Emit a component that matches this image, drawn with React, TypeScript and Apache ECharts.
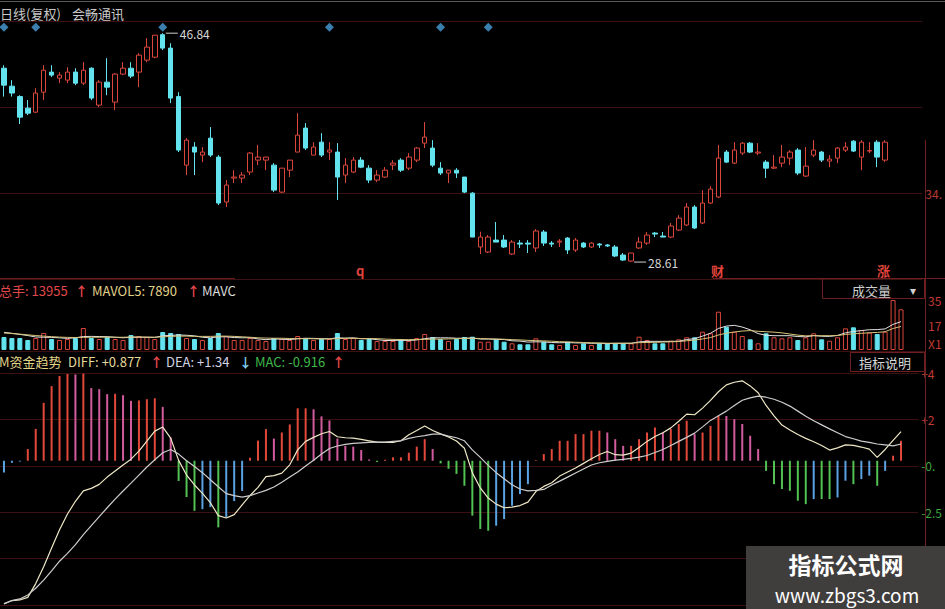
import React, { useEffect, useRef } from "react";
import * as echarts from "echarts";

// Daily bars of 会畅通讯: [open, close, low, high]
const candles: number[][] = [
  [44.05, 42.7, 41.79, 44.29], [42.62, 42.07, 41.79, 43.1], [41.79, 40.15, 39.6, 41.9], [40.87, 40.47, 40.31, 41.51], [40.55, 42.07, 40.47, 42.46],
  [42.14, 43.89, 41.51, 44.29], [43.74, 43.5, 43.34, 44.29], [43.26, 43.5, 42.86, 43.74], [43.1, 43.74, 42.86, 44.13], [43.74, 42.86, 42.7, 44.05],
  [42.86, 43.89, 42.7, 44.53], [44.05, 41.67, 41.51, 44.13], [41.11, 42.94, 40.95, 43.1], [42.94, 42.54, 41.9, 44.85], [41.35, 43.58, 40.71, 43.66],
  [43.58, 44.05, 43.5, 44.53], [44.05, 43.42, 43.26, 44.53], [43.74, 45.09, 42.54, 45.25], [44.69, 45.73, 44.53, 46.44], [44.93, 46.68, 44.85, 46.7],
  [46.72, 45.65, 45.49, 46.84], [45.65, 41.67, 41.27, 46.04], [41.79, 37.53, 37.37, 42.14], [36.33, 38.32, 35.54, 38.48], [37.77, 37.37, 35.54, 38.16],
  [37.13, 37.37, 36.57, 37.77], [38.48, 37.13, 36.97, 39.36], [36.97, 33.31, 33.15, 37.13], [33.39, 34.74, 32.99, 35.14], [35.3, 35.38, 34.9, 35.93],
  [35.3, 35.54, 34.9, 35.78], [35.78, 37.29, 35.54, 37.37], [36.73, 36.97, 36.33, 37.93], [36.73, 36.97, 35.93, 36.97], [36.33, 34.34, 34.18, 36.49],
  [34.18, 36.09, 34.1, 36.09], [35.93, 36.73, 35.38, 36.73], [37.37, 38.72, 37.37, 40.47], [39.28, 37.69, 37.53, 39.68], [37.13, 37.77, 37.13, 38.16],
  [38.16, 37.13, 36.97, 38.88], [37.37, 37.53, 36.73, 38.16], [37.37, 35.38, 33.55, 38.08], [35.54, 36.33, 34.9, 36.89], [35.78, 36.73, 35.7, 36.97],
  [36.73, 36.17, 36.09, 36.97], [36.09, 35.14, 34.9, 36.33], [35.14, 35.54, 34.98, 35.93], [35.38, 35.93, 35.3, 36.17], [36.33, 36.49, 35.93, 36.73],
  [36.73, 35.93, 35.78, 36.89], [36.09, 36.97, 35.93, 37.29], [36.73, 37.69, 36.57, 37.77], [38.08, 38.56, 37.69, 39.76], [37.69, 36.33, 36.17, 38.32],
  [36.09, 35.7, 35.54, 36.57], [35.7, 35.93, 34.9, 35.93], [35.93, 35.7, 35.3, 36.09], [35.38, 34.18, 34.1, 35.38], [34.1, 30.6, 30.6, 34.18],
  [29.81, 30.6, 29.25, 31.03], [29.41, 30.6, 29.33, 30.76], [30.36, 30.2, 30.2, 31.8], [30.36, 29.81, 29.73, 30.76], [29.25, 30.2, 29.17, 30.36],
  [30.12, 30.04, 29.73, 30.36], [30.12, 30.04, 29.33, 30.36], [29.73, 31.08, 29.41, 31.24], [31.0, 30.12, 29.89, 31.16], [30.12, 30.04, 29.81, 30.28],
  [30.2, 30.28, 29.81, 30.44], [30.52, 29.57, 29.25, 30.6], [29.57, 30.36, 29.41, 30.52], [30.12, 29.81, 29.73, 30.2], [29.81, 30.12, 29.73, 30.2],
  [30.04, 29.97, 29.73, 30.12], [29.97, 29.89, 29.81, 30.04], [29.81, 29.09, 29.01, 29.97], [29.17, 28.77, 28.69, 29.33], [28.69, 29.33, 28.61, 29.33],
  [29.73, 30.2, 29.65, 30.6], [30.12, 30.76, 29.97, 31.0], [30.92, 30.84, 30.6, 31.0], [30.68, 30.6, 30.6, 31.0], [30.6, 31.48, 30.52, 31.72],
  [31.16, 32.11, 31.08, 32.35], [31.56, 32.99, 31.48, 33.31], [32.99, 31.32, 31.24, 33.15], [31.72, 33.31, 31.64, 34.34], [33.31, 34.42, 33.23, 34.66],
  [33.79, 36.89, 33.71, 37.93], [37.37, 36.57, 36.49, 37.53], [36.49, 37.53, 36.41, 38.16], [37.29, 38.08, 37.13, 38.16], [38.08, 37.37, 37.29, 38.16],
  [37.29, 37.37, 37.13, 38.08], [36.57, 36.09, 35.3, 36.73], [36.09, 36.17, 36.01, 37.13], [36.49, 36.97, 36.17, 37.93], [36.89, 37.37, 36.33, 37.53],
  [37.53, 35.7, 35.54, 37.69], [35.46, 36.25, 35.38, 37.77], [37.13, 37.53, 36.97, 38.32], [37.37, 36.73, 36.57, 37.45], [36.65, 36.81, 36.17, 37.13],
  [36.89, 37.69, 36.49, 37.77], [37.53, 37.77, 37.37, 38.16], [38.24, 37.45, 37.37, 38.32], [36.97, 38.16, 35.93, 38.32], [37.45, 37.49, 37.29, 38.16],
  [38.16, 36.97, 36.17, 38.32], [36.73, 38.16, 36.57, 38.32],
];

// Volume (lots); the volume and indicator panes run two sessions past the last bar
const volume: number[] = [
  9170, 8470, 8470, 7060, 8470, 12000, 7760, 7060, 7760, 8470,
  15530, 8470, 7760, 9170, 7760, 7060, 10590, 9880, 9170, 7760,
  12700, 12000, 11290, 8470, 7760, 7060, 8470, 12000, 9880, 7060,
  7060, 8470, 7060, 6350, 8470, 7760, 7060, 9880, 8470, 7060,
  7760, 7760, 12000, 7760, 8470, 7060, 7760, 6350, 6350, 6350,
  7760, 6350, 8470, 11290, 9170, 7760, 6350, 7760, 9170, 9390,
  5860, 5860, 7550, 5860, 4730, 4020, 4020, 8260, 5860, 4020,
  3530, 5860, 3530, 4730, 3530, 4730, 4730, 4730, 4730, 4730,
  9390, 7060, 4730, 4730, 6560, 7550, 8960, 8960, 12910, 11790,
  27030, 16440, 12910, 9880, 7550, 4730, 11790, 8960, 8260, 8960,
  7060, 8960, 11790, 7550, 6560, 8960, 15310, 16020, 14110, 12210,
  11290, 12910, 35280, 28720,
];
const extraDaysUp = [true, true];

const mavol5: number[] = [
  12500, 11800, 11000, 10200, 9200, 9000, 8900, 8600, 8200, 8600,
  9500, 9600, 9500, 9400, 9000, 8600, 9000, 9000, 9000, 8900,
  10000, 10300, 10600, 10400, 10000, 9000, 8600, 9300, 9300, 8800,
  8600, 8700, 7800, 7300, 7800, 7600, 7400, 7900, 8300, 8200,
  8000, 7900, 8600, 8400, 8600, 7900, 7900, 7300, 6700, 6700,
  6900, 6700, 7100, 8000, 8600, 8600, 8600, 8300, 8300, 8500,
  7700, 7700, 7500, 7400, 6500, 6300, 5600, 5800, 5700, 5300,
  5100, 5300, 5000, 5000, 4700, 4800, 4500, 4700, 4700, 4700,
  5700, 6100, 6100, 6100, 6100, 6200, 7400, 8000, 9800, 11800,
  15200, 16900, 17400, 16200, 14300, 11600, 10400, 10100, 10100, 10100,
  9500, 9300, 10200, 9700, 9600, 10300, 12100, 13100, 13700, 14300,
  14400, 14900, 18100, 20000,
];
const mavol10: number[] = [
  12000, 11600, 11200, 10700, 10200, 9800, 9400, 9100, 8900, 8800,
  8900, 9000, 9000, 9100, 9000, 9000, 9200, 9200, 9100, 9000,
  9300, 9600, 9800, 9800, 9600, 9600, 9600, 9800, 9800, 9600,
  9300, 9000, 8600, 8400, 8300, 8300, 8100, 8000, 8000, 7900,
  7800, 7800, 8000, 8200, 8300, 8100, 8100, 8000, 7700, 7500,
  7400, 7300, 7400, 7500, 7700, 7700, 7800, 8000, 8100, 8300,
  8100, 7900, 7800, 7600, 7300, 7100, 6800, 6600, 6400, 6200,
  5900, 5700, 5500, 5300, 5100, 4900, 4800, 4800, 4800, 4800,
  5200, 5300, 5400, 5600, 5800, 6000, 6500, 7000, 7800, 8800,
  10600, 11900, 12700, 13400, 13700, 13200, 12900, 12600, 12100, 11300,
  10500, 10000, 10100, 10100, 10100, 10200, 11000, 11400, 11800, 12200,
  12400, 12900, 15200, 16600,
];

// 资金趋势 indicator
const macdHist: number[] = [
  -0.58, -0.1, -0.04, 0.58, 1.58, 2.87, 3.7, 4.2, 4.3, 4.28,
  4.32, 3.6, 3.55, 3.3, 3.32, 3.25, 2.97, 2.99, 3.05, 3.1,
  2.67, 1.15, -1.0, -1.8, -2.48, -2.4, -2.3, -3.3, -2.8, -2.0,
  -1.5, 0.15, 1.0, 1.57, 1.1, 1.4, 1.8, 2.6, 2.6, 2.55,
  2.2, 2.0, 1.1, 0.74, 0.7, 0.53, 0.06, -0.06, 0.05, 0.17,
  0.17, 0.4, 0.7, 1.07, 0.58, -0.13, -0.4, -0.65, -1.24, -2.72,
  -3.38, -3.47, -3.22, -2.89, -2.23, -1.65, -1.16, 0.03, 0.33, 0.58,
  0.99, 0.99, 1.32, 1.32, 1.49, 1.49, 1.4, 1.07, 0.74, 0.74,
  1.07, 1.4, 1.65, 1.4, 1.57, 1.82, 1.98, 1.32, 1.4, 1.73,
  2.23, 2.22, 2.06, 1.82, 1.24, 0.58, -0.5, -1.16, -1.4, -1.49,
  -1.98, -2.15, -1.9, -1.9, -1.9, -1.82, -0.99, -1.16, -0.91, -0.74,
  -1.24, -0.5, 0.25, 0.99,
];
const diffLine: number[] = [
  -7.1, -6.93, -6.9, -6.77, -6.09, -5.25, -4.32, -3.42, -2.64, -2.01,
  -1.49, -1.37, -1.17, -0.81, -0.51, -0.21, 0.08, 0.48, 0.97, 1.47,
  1.67, 1.12, 0.02, -0.71, -1.2, -1.62, -2.08, -2.72, -2.84, -2.67,
  -2.19, -1.72, -1.32, -0.79, -0.74, -0.61, -0.2, 0.54, 0.96, 1.16,
  1.34, 1.45, 1.19, 1.14, 1.12, 1.06, 0.99, 0.92, 0.91, 0.91,
  0.99, 1.29, 1.5, 1.72, 1.5, 1.33, 1.18, 0.98, 0.62, -0.6,
  -1.35, -1.85, -2.15, -2.33, -2.3, -2.22, -2.05, -1.53, -1.27, -1.09,
  -0.76, -0.56, -0.36, -0.13, 0.1, 0.31, 0.46, 0.3, 0.28, 0.38,
  0.66, 0.96, 1.2, 1.39, 1.63, 1.96, 2.31, 2.28, 2.61, 2.99,
  3.42, 3.76, 3.89, 3.96, 3.71, 3.37, 2.74, 2.23, 1.77, 1.52,
  1.3, 1.11, 0.94, 0.76, 0.53, 0.64, 0.79, 0.76, 0.68, 0.58,
  0.17, 0.56, 1.01, 1.44,
];
const deaLine: number[] = [
  -7.08, -6.93, -6.85, -6.65, -6.32, -5.92, -5.46, -4.98, -4.59, -4.16,
  -3.66, -3.22, -2.77, -2.33, -1.9, -1.5, -1.11, -0.71, -0.31, 0.05,
  0.4, 0.56, 0.33, 0.0, -0.28, -0.59, -0.94, -1.29, -1.63, -1.73,
  -1.8, -1.73, -1.6, -1.47, -1.3, -1.06, -0.81, -0.56, -0.26, 0.03,
  0.33, 0.61, 0.73, 0.81, 0.86, 0.89, 0.91, 0.92, 0.92, 0.96,
  0.99, 1.11, 1.19, 1.25, 1.32, 1.32, 1.22, 1.14, 0.99, 0.54,
  0.17, -0.23, -0.59, -0.89, -1.19, -1.4, -1.49, -1.47, -1.42, -1.2,
  -1.01, -0.81, -0.61, -0.41, -0.21, -0.1, -0.03, 0.03, 0.07, 0.12,
  0.18, 0.26, 0.41, 0.56, 0.76, 0.96, 1.16, 1.37, 1.68, 2.0,
  2.23, 2.46, 2.74, 3.0, 3.12, 3.2, 3.15, 3.05, 2.9, 2.71,
  2.46, 2.21, 1.98, 1.78, 1.58, 1.39, 1.2, 1.09, 0.97, 0.91,
  0.83, 0.79, 0.74, 0.83,
];

// Signal diamonds above the price pane
const signalDays = [0, 4, 20, 41, 55, 61];
const signalLevel = 47.32;

// Right-hand scale labels (cut by the window edge)
const priceTickLabels = ["", "34.", "", ""];
const volumeTickLabels = ["", "17", "35"];
const volumeUnitLabel = "X1";
const macdTickLabels = ["", "", "-2.5", "-0.", "+2", "+4"];

const dayLabels = volume.map((_, i) => String(i + 1));

const RED = "#d8463c";
const CYAN = "#62e3ee";
const GRID = "#3b1111";
const FRAME = "#6e1e1e";
const FONT = '"Noto Sans CJK SC", "Noto Sans", sans-serif';

const isUp = (i: number) =>
  i < candles.length ? candles[i][1] >= candles[i][0] : extraDaysUp[i - candles.length];

function histColor(i: number) {
  const v = macdHist[i];
  const prev = i > 0 ? macdHist[i - 1] : -Infinity;
  if (v >= 0) return v >= prev ? "#e2493b" : "#d25b9e";
  return v <= prev ? "#52c252" : "#5aa2e2";
}

function txt(
  x: number, y: number, text: string, fill: string,
  size = 13, weight = "normal", align = "left", z = 20,
) {
  return {
    type: "text",
    x,
    y,
    silent: true,
    z,
    style: { text, fill, font: `${weight} ${size}px ${FONT}`, align, verticalAlign: "middle" },
  };
}
function hline(x1: number, x2: number, y: number, stroke: string) {
  return { type: "line", silent: true, z: 15, shape: { x1, y1: y, x2, y2: y }, style: { stroke, lineWidth: 1 } };
}

function buildOption() {
  const X = [0, 1, 2].map((g) => ({
    type: "category",
    gridIndex: g,
    data: dayLabels,
    boundaryGap: true,
    show: false,
  }));
  const frameX = [3, 4, 5].map((g) => ({ type: "value", gridIndex: g, min: 0, max: 1, show: false }));

  return {
    animation: false,
    backgroundColor: "#000",
    grid: [
      { left: 0, top: 21, width: 905, height: 258 },
      { left: 0, top: 300, width: 905, height: 50 },
      { left: 0, top: 373, width: 905, height: 232 },
      { left: 0, top: 21, width: 925, height: 258 },
      { left: 0, top: 373, width: 925, height: 232 },
      { left: 0, top: 300, width: 925, height: 50 },
    ],
    xAxis: [...X, ...frameX],
    yAxis: [
      { type: "value", gridIndex: 0, min: 27.26, max: 47.81, show: false, splitLine: { show: false } },
      { type: "value", gridIndex: 1, min: 0, max: 35300, show: false, splitLine: { show: false } },
      { type: "value", gridIndex: 2, min: -7.15, max: 4.35, show: false, splitLine: { show: false } },
      {
        type: "value", gridIndex: 3, position: "right", min: 27.26, max: 47.81, interval: 6.85,
        axisLine: { show: false }, axisTick: { show: false },
        splitLine: { show: true, lineStyle: { color: GRID, width: 1 } },
        axisLabel: { margin: 3, color: "#b83a34", fontSize: 12, fontFamily: FONT, formatter: (_v: number, i: number) => priceTickLabels[i] ?? "" },
      },
      {
        type: "value", gridIndex: 4, position: "right", min: -7.15, max: 4.35, interval: 2.3,
        axisLine: { show: false }, axisTick: { show: false },
        splitLine: { show: true, lineStyle: { color: GRID, width: 1 } },
        axisLabel: {
          margin: 3, fontSize: 12, fontFamily: FONT,
          color: (v: number) => (v > 0 ? "#c23a34" : "#3aa83e"),
          formatter: (_v: number, i: number) => macdTickLabels[i] ?? "",
        },
      },
      {
        type: "value", gridIndex: 5, position: "right", min: 0, max: 35300, interval: 17650,
        axisLine: { show: false }, axisTick: { show: false }, splitLine: { show: false },
        axisLabel: { margin: 3, color: "#c23a34", fontSize: 12, fontFamily: FONT, formatter: (_v: number, i: number) => volumeTickLabels[i] ?? "" },
      },
    ],
    series: [
      {
        type: "candlestick",
        xAxisIndex: 0,
        yAxisIndex: 0,
        barWidth: 5,
        data: candles,
        itemStyle: { color: "#000", color0: CYAN, borderColor: RED, borderColor0: CYAN, borderWidth: 1 },
        markPoint: {
          symbol: "rect",
          symbolSize: [12, 1],
          symbolOffset: [9, 0],
          itemStyle: { color: "#cfcfcf" },
          label: {
            show: true, position: "right", distance: 2, color: "#d6d6d6", fontSize: 12, fontFamily: FONT,
            formatter: (p: any) => Number(p.value).toFixed(2),
          },
          data: [
            { type: "max", valueDim: "highest" },
            { type: "min", valueDim: "lowest" },
          ],
        },
      },
      {
        type: "scatter",
        xAxisIndex: 0,
        yAxisIndex: 0,
        symbol: "diamond",
        symbolSize: 9,
        itemStyle: { color: "#4a9fda" },
        data: signalDays.map((d) => [dayLabels[d], signalLevel]),
      },
      {
        type: "bar",
        xAxisIndex: 1,
        yAxisIndex: 1,
        barWidth: 5,
        data: volume.map((v, i) => ({
          value: v,
          itemStyle: isUp(i)
            ? { color: "#000", borderColor: RED, borderWidth: 1 }
            : { color: CYAN, borderColor: CYAN, borderWidth: 1 },
        })),
      },
      {
        type: "line", xAxisIndex: 1, yAxisIndex: 1, data: mavol5, symbol: "none",
        lineStyle: { color: "#e2e2e2", width: 1 },
      },
      {
        type: "line", xAxisIndex: 1, yAxisIndex: 1, data: mavol10, symbol: "none",
        lineStyle: { color: "#d6c27a", width: 1 },
      },
      {
        type: "bar",
        xAxisIndex: 2,
        yAxisIndex: 2,
        barWidth: 2,
        data: macdHist,
        itemStyle: { color: (p: any) => histColor(p.dataIndex) },
      },
      {
        type: "line", xAxisIndex: 2, yAxisIndex: 2, data: diffLine, symbol: "none",
        lineStyle: { color: "#efe8c6", width: 1.2 },
      },
      {
        type: "line", xAxisIndex: 2, yAxisIndex: 2, data: deaLine, symbol: "none",
        lineStyle: { color: "#cdcdcd", width: 1.2 },
      },
    ],
    graphic: [
      hline(0, 945, 1.5, "#5a5a5a"),
      txt(0, 13, "日线(复权)", "#c8c8c8"),
      txt(72, 13, "会畅通讯", "#c8c8c8"),

      hline(0, 235, 278.5, "#6a1d1d"),
      hline(713, 945, 278.5, FRAME),
      txt(356, 270, "q", "#e0443c", 13, "bold"),
      txt(711, 270, "财", "#e0443c", 13, "bold"),
      txt(877, 270, "涨", "#e0443c", 13, "bold"),

      { type: "rect", silent: true, z: 15, shape: { x: 822.5, y: 278.5, width: 102, height: 20 }, style: { fill: "transparent", stroke: FRAME, lineWidth: 1 } },
      txt(852, 290, "成交量", "#cfcfcf", 13),
      txt(910, 289, "▾", "#cfcfcf", 12),

      txt(-1, 290, "总手: 13955", "#e0484a"),
      txt(75, 290, "↑", "#e0484a", 13, "bold"),
      txt(92, 290, "MAVOL5: 7890", "#e0d28a"),
      txt(187, 290, "↑", "#e0484a", 13, "bold"),
      txt(202, 290, "MAVC", "#dcdcdc"),

      txt(928, 343, volumeUnitLabel, "#c23a34", 12),
      hline(0, 925, 351.5, GRID),

      txt(-1, 361, "M资金趋势", "#e2d488"),
      txt(68, 361, "DIFF: +0.877", "#e6d898"),
      txt(150, 361, "↑", "#e0484a", 13, "bold"),
      txt(166, 361, "DEA: +1.34", "#d2d2e2"),
      txt(239, 361, "↓", "#7fd0f2", 13, "bold"),
      txt(255, 361, "MAC: -0.916", "#3fb84a"),
      txt(332, 361, "↑", "#e0484a", 13, "bold"),

      { type: "rect", silent: true, z: 15, shape: { x: 850.5, y: 352.5, width: 74, height: 19 }, style: { fill: "#000", stroke: FRAME, lineWidth: 1 } },
      txt(859, 362, "指标说明", "#d8d8d8", 13),

      { type: "line", silent: true, z: 15, shape: { x1: 925.5, y1: 140, x2: 925.5, y2: 609 }, style: { stroke: FRAME, lineWidth: 1 } },

      { type: "rect", silent: true, z: 100, shape: { x: 746, y: 546, width: 199, height: 63 }, style: { fill: "#403d3d" } },
      txt(846, 564, "指标公式网", "#ffffff", 23, "bold", "center", 101),
      txt(847, 594, "www.zbgs3.com", "#ffffff", 19, "normal", "center", 101),
    ],
  };
}

export default function App() {
  const ref = useRef<HTMLDivElement>(null);
  useEffect(() => {
    const el = ref.current;
    if (!el) return;
    const chart = echarts.init(el, undefined, { renderer: "svg" });
    chart.setOption(buildOption() as any);
    return () => chart.dispose();
  }, []);
  return (
    <div
      ref={ref}
      style={{ position: "fixed", left: 0, top: 0, width: 945, height: 609, background: "#000" }}
    />
  );
}
